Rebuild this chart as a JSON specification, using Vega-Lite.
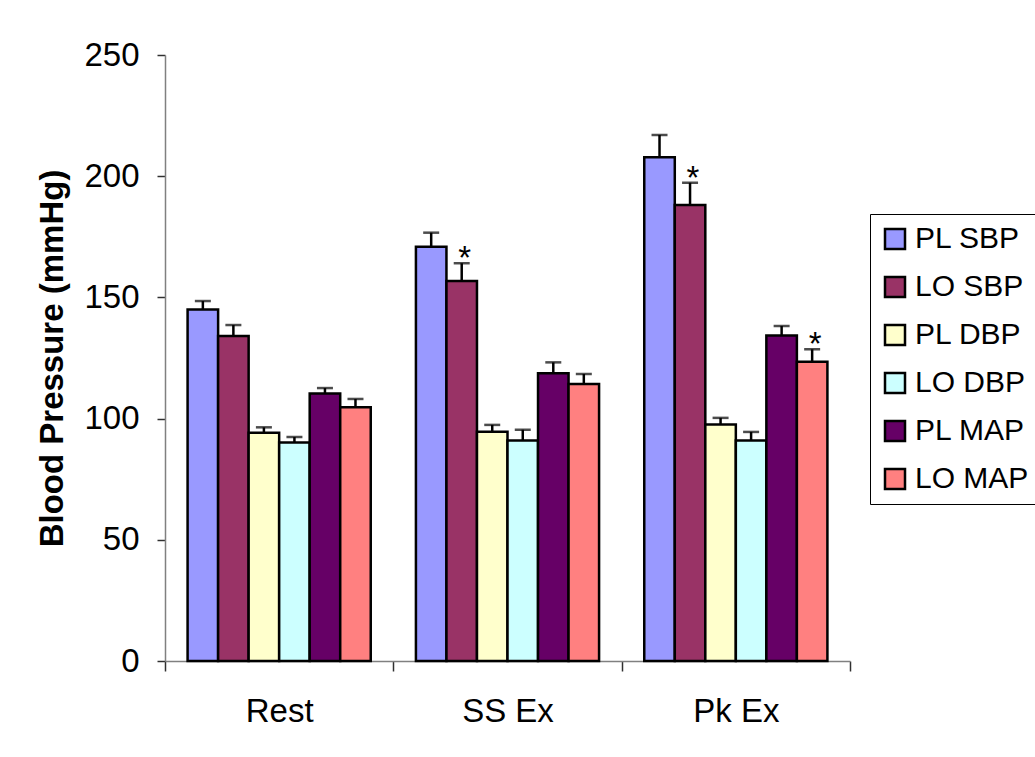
{
  "$schema": "https://vega.github.io/schema/vega-lite/v6.json",
  "width": 685,
  "height": 606,
  "autosize": {"type": "none"},
  "padding": {"left": 165, "top": 55, "right": 185, "bottom": 96},
  "background": "white",
  "config": {
    "font": "Liberation Sans",
    "view": {"stroke": null}
  },
  "data": {
    "values": [
      {"phase": "Rest", "series": "PL SBP", "mean": 145.0, "upper": 148.5, "sig": ""},
      {"phase": "Rest", "series": "LO SBP", "mean": 134.1, "upper": 138.6, "sig": ""},
      {"phase": "Rest", "series": "PL DBP", "mean": 94.2, "upper": 96.4, "sig": ""},
      {"phase": "Rest", "series": "LO DBP", "mean": 90.1, "upper": 92.4, "sig": ""},
      {"phase": "Rest", "series": "PL MAP", "mean": 110.4, "upper": 112.6, "sig": ""},
      {"phase": "Rest", "series": "LO MAP", "mean": 104.7, "upper": 108.1, "sig": ""},
      {"phase": "SS Ex", "series": "PL SBP", "mean": 170.9, "upper": 176.7, "sig": ""},
      {"phase": "SS Ex", "series": "LO SBP", "mean": 156.8, "upper": 164.1, "sig": "*"},
      {"phase": "SS Ex", "series": "PL DBP", "mean": 94.6, "upper": 97.4, "sig": ""},
      {"phase": "SS Ex", "series": "LO DBP", "mean": 91.0, "upper": 95.4, "sig": ""},
      {"phase": "SS Ex", "series": "PL MAP", "mean": 118.7, "upper": 123.2, "sig": ""},
      {"phase": "SS Ex", "series": "LO MAP", "mean": 114.3, "upper": 118.4, "sig": ""},
      {"phase": "Pk Ex", "series": "PL SBP", "mean": 207.8, "upper": 217.0, "sig": ""},
      {"phase": "Pk Ex", "series": "LO SBP", "mean": 188.1, "upper": 197.3, "sig": "*"},
      {"phase": "Pk Ex", "series": "PL DBP", "mean": 97.6, "upper": 100.3, "sig": ""},
      {"phase": "Pk Ex", "series": "LO DBP", "mean": 91.0, "upper": 94.5, "sig": ""},
      {"phase": "Pk Ex", "series": "PL MAP", "mean": 134.3, "upper": 138.2, "sig": ""},
      {"phase": "Pk Ex", "series": "LO MAP", "mean": 123.5, "upper": 128.6, "sig": "*"}
    ]
  },
  "encoding": {
    "x": {
      "field": "phase",
      "type": "nominal",
      "sort": ["Rest", "SS Ex", "Pk Ex"],
      "scale": {"paddingInner": 0, "paddingOuter": 0},
      "axis": {
        "title": null,
        "labelAngle": 0,
        "labelFontSize": 33,
        "labelColor": "black",
        "labelPadding": 24,
        "tickBand": "extent",
        "tickSize": 10,
        "tickColor": "#303030",
        "domainColor": "#808080",
        "domainWidth": 1.5,
        "tickWidth": 1.5
      }
    },
    "xOffset": {
      "field": "series",
      "type": "nominal",
      "sort": ["PL SBP", "LO SBP", "PL DBP", "LO DBP", "PL MAP", "LO MAP"],
      "scale": {"paddingInner": 0, "paddingOuter": 0.74}
    }
  },
  "layer": [
    {
      "mark": {"type": "bar", "stroke": "black", "strokeWidth": 2.5},
      "encoding": {
        "y": {
          "field": "mean",
          "type": "quantitative",
          "scale": {"domain": [0, 250], "nice": false},
          "axis": {
            "title": "Blood Pressure (mmHg)",
            "titleFontSize": 33,
            "titleFontWeight": "bold",
            "titleColor": "black",
            "titlePadding": 14,
            "values": [0, 50, 100, 150, 200, 250],
            "labelFontSize": 33,
            "labelColor": "black",
            "labelPadding": 18,
            "tickSize": 8,
            "tickColor": "#303030",
            "domainColor": "#808080",
            "domainWidth": 1.5,
            "tickWidth": 1.5,
            "grid": false
          }
        },
        "color": {
          "field": "series",
          "type": "nominal",
          "scale": {
            "domain": ["PL SBP", "LO SBP", "PL DBP", "LO DBP", "PL MAP", "LO MAP"],
            "range": ["#9999FF", "#993366", "#FFFFCC", "#CCFFFF", "#660066", "#FF8080"]
          },
          "legend": {
            "title": null,
            "orient": "none",
            "legendX": 705,
            "legendY": 159,
            "symbolType": "square",
            "symbolSize": 400,
            "symbolStrokeColor": "black",
            "symbolStrokeWidth": 2.5,
            "symbolOpacity": 1,
            "labelFontSize": 30,
            "labelColor": "black",
            "labelOffset": 5,
            "rowPadding": 18,
            "padding": 10,
            "strokeColor": "black",
            "fillColor": "white"
          }
        }
      }
    },
    {
      "mark": {"type": "rule", "color": "black", "strokeWidth": 2.5},
      "encoding": {
        "y": {"field": "mean", "type": "quantitative"},
        "y2": {"field": "upper"}
      }
    },
    {
      "mark": {"type": "tick", "color": "black", "thickness": 2.5, "size": 16, "orient": "horizontal"},
      "encoding": {
        "y": {"field": "upper", "type": "quantitative"}
      }
    },
    {
      "mark": {"type": "text", "fontSize": 33, "color": "black", "baseline": "alphabetic", "dy": 6, "dx": 3},
      "encoding": {
        "y": {"field": "upper", "type": "quantitative"},
        "text": {"field": "sig"}
      }
    }
  ]
}
